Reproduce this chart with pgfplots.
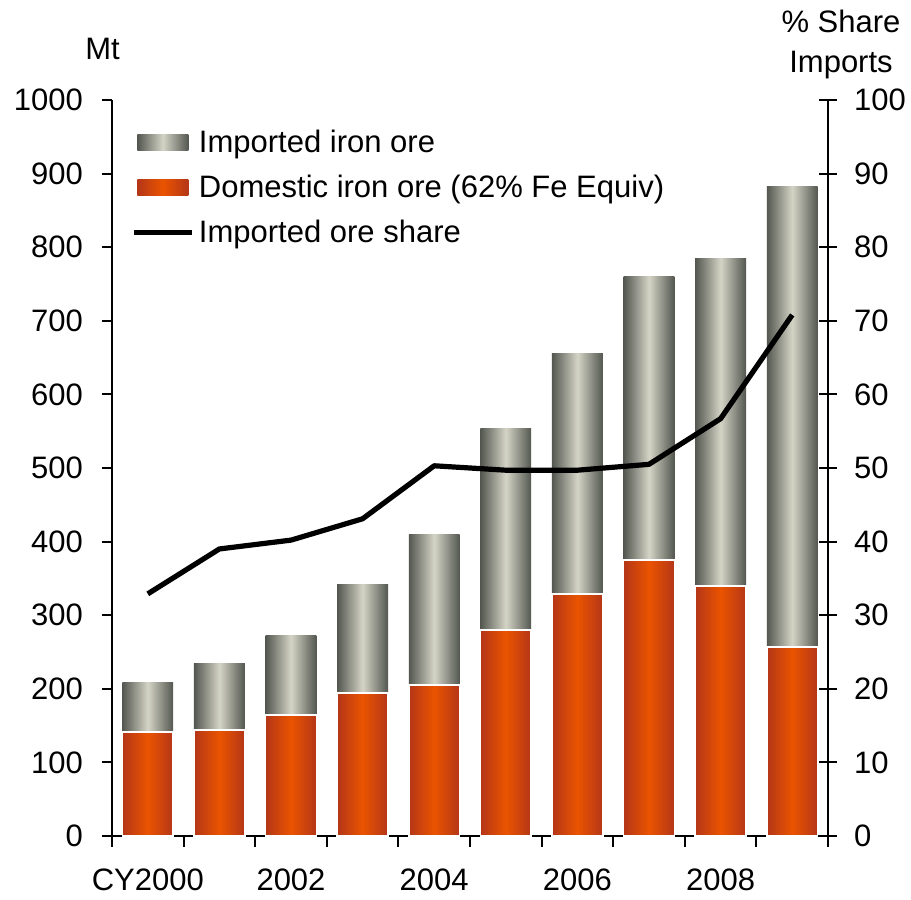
\documentclass[border=0pt]{standalone}
\usepackage{pgfplots}
\pgfplotsset{compat=1.18}
\usepackage{fontspec}
\setmainfont{Liberation Sans}
\definecolor{gdark}{RGB}{84,87,80}
\definecolor{glight}{RGB}{212,212,198}
\definecolor{odark}{RGB}{180,54,24}
\definecolor{olight}{RGB}{234,84,0}
\newcommand{\lf}{\fontsize{15.5}{18}\selectfont}
\pgfplotsset{
  barleg/.style={legend image code/.code={\path[##1, draw=none] (1.5pt,-4pt) rectangle (27pt,4pt);}},
  lineleg/.style={legend image code/.code={\draw[##1] (0pt,0pt) -- (29pt,0pt);}},
  gbar/.style={ybar, bar width=0.71, bar shift=0pt, forget plot, draw=none, left color=gdark, right color=gdark, middle color=glight},
  obar/.style={ybar, bar width=0.71, bar shift=0pt, forget plot, draw=white, line width=0.8pt, left color=odark, right color=odark, middle color=olight},
}
\begin{document}
\begin{tikzpicture}[font=\lf]
\begin{axis}[
  scale only axis, width=358pt, height=368pt,
  xmin=-0.5, xmax=9.5, ymin=0, ymax=1000,
  axis x line*=bottom, axis y line*=left,
  axis line style={line width=1pt},
  xtick={0,2,4,6,8},
  xticklabels={CY2000,2002,2004,2006,2008},
  minor xtick={-0.5,0.5,...,9.5},
  major x tick style={draw=none},
  minor x tick style={line width=1pt, black},
  minor tick length=5.5pt,
  ytick={0,100,...,1000},
  y tick style={line width=1pt, black},
  major tick length=5pt,
  tick align=outside,
  /pgf/number format/assume math mode=true,
  /pgf/number format/1000 sep={},
  tick label style={font=\lf},
  yticklabel style={xshift=-6pt},
  xticklabel style={inner sep=0pt, yshift=-11pt},
  legend style={draw=none, fill=none, font=\lf, at={(rel axis cs:0.0187,0.971)}, anchor=north west, row sep=5.75pt, legend cell align=left},
  clip=false,
]
\addlegendimage{left color=gdark, right color=gdark, middle color=glight, barleg}
\addlegendimage{left color=odark, right color=odark, middle color=olight, barleg}
\addlegendimage{black, line width=2.6pt, lineleg}
% total (imported + domestic) behind, domestic in front
\addplot[gbar] coordinates {(0,209)};
\addplot[obar] coordinates {(0,141)};
\addplot[gbar] coordinates {(1,235)};
\addplot[obar] coordinates {(1,144)};
\addplot[gbar] coordinates {(2,273)};
\addplot[obar] coordinates {(2,164)};
\addplot[gbar] coordinates {(3,342)};
\addplot[obar] coordinates {(3,194)};
\addplot[gbar] coordinates {(4,410)};
\addplot[obar] coordinates {(4,205)};
\addplot[gbar] coordinates {(5,553)};
\addplot[obar] coordinates {(5,280)};
\addplot[gbar] coordinates {(6,655)};
\addplot[obar] coordinates {(6,329)};
\addplot[gbar] coordinates {(7,760)};
\addplot[obar] coordinates {(7,375)};
\addplot[gbar] coordinates {(8,784)};
\addplot[obar] coordinates {(8,340)};
\addplot[gbar] coordinates {(9,883)};
\addplot[obar] coordinates {(9,257)};
\legend{Imported iron ore, Domestic iron ore (62\% Fe Equiv), Imported ore share}
\node[anchor=base, inner sep=0pt] at ([xshift=-4.75pt,yshift=20pt]rel axis cs:0,1) {Mt};
\end{axis}
\begin{axis}[
  scale only axis, width=358pt, height=368pt,
  xmin=-0.5, xmax=9.5, ymin=0, ymax=100,
  axis x line=none, axis y line*=right,
  axis line style={line width=1pt},
  ytick={0,10,...,100},
  y tick style={line width=1pt, black},
  major tick length=9pt,
  tick align=center,
  /pgf/number format/assume math mode=true,
  tick label style={font=\lf},
  yticklabel style={xshift=5pt},
  clip=false,
]
\addplot[black, line width=2.6pt, line join=round] coordinates {(0,32.9) (1,39.0) (2,40.2) (3,43.1) (4,50.3) (5,49.7) (6,49.7) (7,50.5) (8,56.7) (9,70.8)};
\node[anchor=base, inner sep=0pt] at ([xshift=6.5pt,yshift=33.5pt]rel axis cs:1,1) {\% Share};
\node[anchor=base, inner sep=0pt] at ([xshift=6.5pt,yshift=13.5pt]rel axis cs:1,1) {Imports};
\end{axis}
\pgfresetboundingbox
\path (-56pt,-32pt) rectangle (399.5pt,418pt);
\end{tikzpicture}
\end{document}
